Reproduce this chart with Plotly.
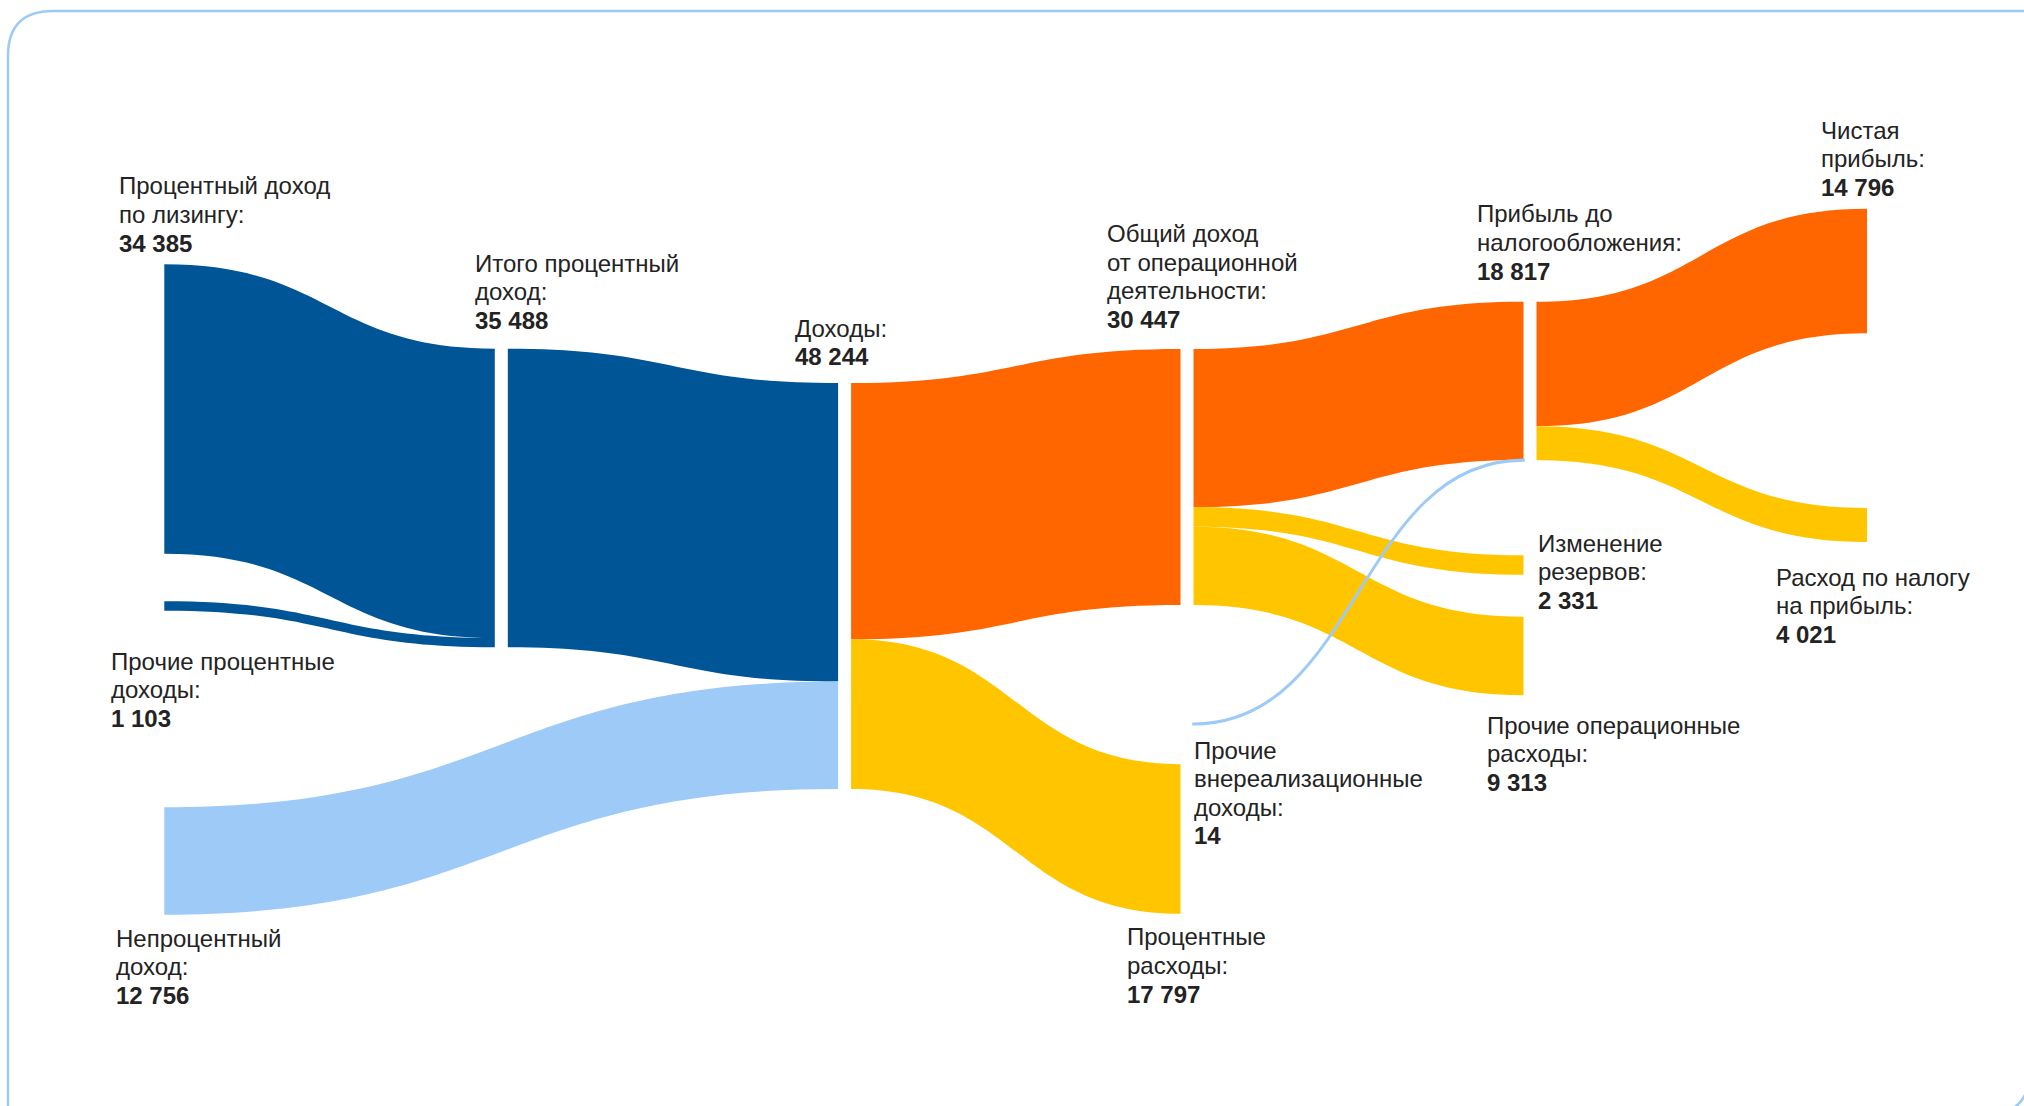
import plotly.graph_objects as go

# ---------------- data ----------------
node_names = [
    "Процентный доход по лизингу",               # 0
    "Прочие процентные доходы",                  # 1
    "Непроцентный доход",                        # 2
    "Итого процентный доход",                    # 3
    "Доходы",                                    # 4
    "Общий доход от операционной деятельности",  # 5
    "Процентные расходы",                        # 6
    "Прочие внереализационные доходы",           # 7
    "Прибыль до налогообложения",                # 8
    "Изменение резервов",                        # 9
    "Прочие операционные расходы",               # 10
    "Чистая прибыль",                            # 11
    "Расход по налогу на прибыль",               # 12
]
node_values = [34385, 1103, 12756, 35488, 48244, 30447, 17797, 14, 18817, 2331, 9313, 14796, 4021]
label_lines = [
    ["Процентный доход", "по лизингу:"],
    ["Прочие процентные", "доходы:"],
    ["Непроцентный", "доход:"],
    ["Итого процентный", "доход:"],
    ["Доходы:"],
    ["Общий доход", "от операционной", "деятельности:"],
    ["Процентные", "расходы:"],
    ["Прочие", "внереализационные", "доходы:"],
    ["Прибыль до", "налогообложения:"],
    ["Изменение", "резервов:"],
    ["Прочие операционные", "расходы:"],
    ["Чистая", "прибыль:"],
    ["Расход по налогу", "на прибыль:"],
]

link_source = [0, 1, 3, 2, 4, 4, 5, 5, 5, 7, 8, 8]
link_target = [3, 3, 4, 4, 5, 6, 8, 9, 10, 8, 11, 12]
link_value = [34385, 1103, 35488, 12756, 30447, 17797, 18803, 2331, 9313, 14, 14796, 4021]

# ---------------- styles / layout positions ----------------
W, H = 2024, 1106
DARK = "#005596"
LIGHT = "#9dcaf6"
ORANGE = "#ff6600"
YELLOW = "#ffc600"
TEXT = "#232323"
FONT = "Liberation Sans, Arial, sans-serif"
CLEAR = "rgba(0,0,0,0)"

THIN = 9  # index of the very thin link, redrawn as an outlined line
link_colors = [DARK, DARK, DARK, LIGHT, ORANGE, YELLOW, ORANGE, YELLOW, YELLOW, CLEAR, ORANGE, YELLOW]

col_px = [157.8, 501.3, 844.6, 1187.0, 1530.0, 1873.5]
node_col = [0, 0, 0, 1, 2, 3, 3, 3, 4, 4, 4, 5, 5]
node_ycenter_px = [409, 606, 861, 498, 586, 477, 839, 724, 381, 565, 656, 271, 525]
PAD = 175
THICK = 13

node_x = [col_px[c] / W for c in node_col]
node_y = [v / H for v in node_ycenter_px]

# label: left x and centre of first text line (pixels), line step
label_x_px = [117.5, 109.7, 114.9, 473.7, 794, 1106, 1125.6, 1192.7, 1475.5, 1537, 1485.7, 1820, 1775]
label_first_px = [186, 661, 938, 263, 328, 233.6, 937, 750, 214, 543, 725, 130, 577]
LINE_STEP = 28.6
FONT_SIZE = 24


def fmt(v):
    return f"{v:,}".replace(",", " ")


main = go.Sankey(
    arrangement="fixed",
    domain=dict(x=[0, 1], y=[0, 1]),
    node=dict(
        label=[""] * len(node_names),
        customdata=node_names,
        x=node_x,
        y=node_y,
        pad=PAD,
        thickness=THICK,
        color=CLEAR,
        line=dict(width=0, color=CLEAR),
        hovertemplate="%{customdata}: %{value}<extra></extra>",
    ),
    link=dict(
        source=link_source,
        target=link_target,
        value=link_value,
        color=link_colors,
        line=dict(width=0, color=CLEAR),
        hoverinfo="none",
    ),
)

# --- thin link (value 14) redrawn in its own trace so it can carry an outline ---
ky = (H - 4 * PAD) / sum(node_values[i] for i in (6, 9, 10, 11, 12))  # same scale as main trace
s, t = link_source[THIN], link_target[THIN]
incoming_above = sum(v for src, tg, v in zip(link_source, link_target, link_value)
                     if tg == t and node_ycenter_px[src] < node_ycenter_px[s])
t_entry_px = node_ycenter_px[t] - node_values[t] * ky / 2 + (incoming_above + link_value[THIN] / 2) * ky
h2 = 0.5  # pixel height of the helper trace
thin = go.Sankey(
    arrangement="fixed",
    domain=dict(x=[0, 1], y=[1 - h2 / H, 1]),
    node=dict(
        label=["", ""],
        customdata=[node_names[s], node_names[t]],
        x=[node_x[s], node_x[t]],
        y=[node_ycenter_px[s] / h2, t_entry_px / h2],
        pad=1,
        thickness=THICK,
        color=CLEAR,
        line=dict(width=0, color=CLEAR),
        hoverinfo="skip",
    ),
    link=dict(
        source=[0], target=[1], value=[link_value[THIN]],
        color=LIGHT,
        line=dict(width=2.6, color=LIGHT),
        hoverinfo="skip",
    ),
)

fig = go.Figure([main, thin])

annotations = []
for i, name in enumerate(node_names):
    lines = label_lines[i] + [f"<b>{fmt(node_values[i])}</b>"]
    for k, ln in enumerate(lines):
        annotations.append(
            dict(
                xref="paper", yref="paper",
                x=label_x_px[i] / W, y=1 - (label_first_px[i] + k * LINE_STEP) / H,
                xanchor="left", yanchor="middle", align="left",
                text=ln, showarrow=False, borderpad=0,
                font=dict(family=FONT, size=FONT_SIZE, color=TEXT),
            )
        )


def px(x, y):
    return f"{x / W:.5f},{1 - y / H:.5f}"


frame1 = f"M {px(2100, 11)} L {px(53, 11)} Q {px(8, 11)} {px(8, 56)} L {px(8, 1300)}"
frame2 = f"M {px(2030, 900)} L {px(2030, 1070)} Q {px(2030, 1115)} {px(1985, 1115)} L {px(1700, 1115)}"
shapes = [
    dict(type="path", xref="paper", yref="paper", path=p,
         line=dict(color="#9ccbf7", width=2.5), fillcolor=CLEAR, layer="below")
    for p in (frame1, frame2)
]

fig.update_layout(
    width=W, height=H,
    margin=dict(l=0, r=0, t=0, b=0),
    paper_bgcolor="white", plot_bgcolor="white",
    annotations=annotations,
    shapes=shapes,
    showlegend=False,
)

fig.write_html(
    "out.html",
    config={"displayModeBar": False},
    post_script="document.body.style.margin='0';document.body.style.overflow='hidden';",
)
